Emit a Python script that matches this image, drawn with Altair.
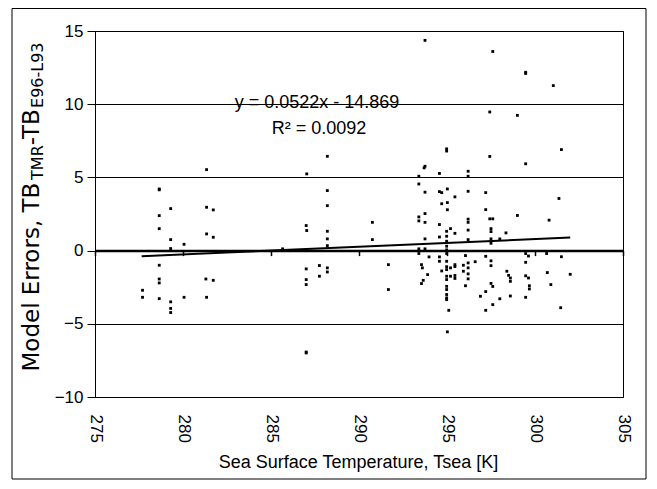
import altair as alt
import pandas as pd

# ---- data ----
tsea = [
    277.7, 277.7,
    278.65, 278.65, 278.65, 278.65, 278.65, 278.65, 278.65, 278.65,
    279.3, 279.3, 279.3, 279.3, 279.3, 279.3,
    280.06, 280.06,
    281.34, 281.34, 281.34, 281.3, 281.34,
    281.72, 281.72, 281.72,
    285.66,
    287.03, 287.0, 287.03, 287.0, 287.0, 287.0, 287.0, 287.0,
    287.75, 287.75,
    288.2, 288.2, 288.2, 288.2, 288.2, 288.2, 288.2, 288.2,
    290.76, 290.76,
    291.67, 291.67,
    293.4, 293.4, 293.4, 293.4, 293.4, 293.4,
    293.55, 293.6, 293.65, 293.55,
    293.75, 293.75, 293.7, 293.75, 293.75, 293.75, 293.75, 293.75,
    293.9, 293.98,
    294.57, 294.57, 294.57, 294.57, 294.57, 294.57,
    294.7, 294.7, 294.7,
    294.98, 294.98, 294.98, 294.98, 294.98, 294.98, 294.98,
    294.98, 294.98, 294.98, 294.98, 294.98, 294.98, 294.98, 294.98, 294.98, 294.98, 294.98,
    295.02, 295.02, 295.02, 295.1, 295.02,
    295.2, 295.2, 295.2,
    295.45, 295.45, 295.45, 295.45, 295.45, 295.45,
    295.93, 295.93, 296.05, 296.05,
    296.2, 296.2, 296.2, 296.2, 296.2, 296.2, 296.2, 296.2, 296.2, 296.2, 296.2,
    296.6,
    296.9,
    297.2, 297.2, 297.2, 297.2, 297.2,
    297.43, 297.43, 297.43, 297.5, 297.5, 297.5, 297.5, 297.5, 297.5, 297.5, 297.6,
    297.6, 297.6, 297.6,
    298.0, 298.0,
    298.35, 298.4, 298.5, 298.6, 298.6, 298.6,
    299.0, 299.0,
    299.47, 299.47, 299.47, 299.47, 299.47, 299.47, 299.47,
    299.63, 299.63, 299.68, 299.68,
    300.66, 300.7,
    300.8, 300.9,
    301.04,
    301.36,
    301.46,
    301.5, 301.5,
    302.0,
]
err = [
    -2.71, -3.19,
    4.21, 4.15, 2.39, 1.5, -1.0, -1.94, -2.21, -3.28,
    2.87, 0.75, 0.14, -3.5, -3.95, -4.23,
    0.43, -3.19,
    5.53, 2.96, 1.14, -1.94, -3.19,
    2.78, 0.91, -2.03,
    0.12,
    5.24, 1.71, 1.37, -1.25, -1.98, -2.32, -6.99, -6.93,
    -1.02, -1.75,
    6.44, 4.1, 3.07, 1.32, 0.8, 0.34, -1.18, -1.46,
    1.93, 0.75,
    -0.96, -2.66,
    5.08, 4.55, 2.3, 2.03, 0.12, -0.2,
    -0.96, -1.18, -2.03, -2.25,
    14.36, 5.76, 5.65, 3.99, 2.53, 1.93, 0.8, 0.12,
    -1.64, -0.43,
    5.27, 4.03, 1.78, 0.93, -0.43, -0.73,
    3.96, 3.2, -1.39,
    6.95, 6.8, 1.32, 0.98, 0.64, 0.3, 0.05,
    -0.2, -0.73, -1.1, -1.3, -1.75, -1.98, -2.44, -2.66, -3.0, -3.23, -3.35,
    4.21, 3.28, 2.79, -4.08, -5.55,
    1.5, -1.18, -1.75,
    3.67, 1.18, -0.96, -1.09, -1.7, -1.9,
    -1.0, -1.41, -0.34, -2.4,
    5.42, 5.08, 4.05, 2.15, 1.93, 1.4, 0.75, -0.84, -1.18, -1.59, -1.93,
    -0.76,
    -3.12,
    3.96, 2.8, -0.39, -2.8, -4.08,
    9.47, 6.43, 2.17, 1.5, 1.3, 0.8, 0.5, -0.7, -1.03, -2.24, -2.45,
    13.6, 2.17, -3.69,
    0.8, -3.29,
    1.21, -1.41, -1.69, -1.87, -2.1, -3.1,
    9.24, 2.4,
    12.18, 12.1, 5.93, -0.2, -0.8, -1.72, -3.19,
    -0.37, -1.87, -2.4, -2.62,
    -0.2, -1.5,
    2.08, -2.32,
    11.27,
    3.56,
    -3.9,
    6.9, -0.42,
    -1.62,
]
trend_x = [277.65, 302.0]
trend_y = [-0.38, 0.89]
x_ticks = [275, 280, 285, 290, 295, 300, 305]
y_ticks = [-10, -5, 0, 5, 10, 15]

eq_text = "y = 0.0522x - 14.869"
r2_text = "R² = 0.0092"
x_title = "Sea Surface Temperature, Tsea [K]"
y_title_parts = ["Model Errors, TB", "TMR", "-TB", "E96-L93"]

pts = pd.DataFrame({"tsea": tsea, "err": err})
trend = pd.DataFrame({"tsea": trend_x, "err": trend_y})
one = pd.DataFrame({"k": [0]})

FONT = "Liberation Sans"
TFONT = "DejaVu Sans"
W, H = 528, 366
xs = alt.Scale(domain=[275, 305], nice=False, zero=False)
ys = alt.Scale(domain=[-10, 15], nice=False, zero=False)

x_axis = alt.Axis(
    orient="bottom", values=x_ticks, labelAngle=90, labelAlign="left", labelBaseline="middle",
    labelFontSize=17, labelFont=FONT, labelColor="black", labelPadding=17, labelFlush=False,
    ticks=False, domain=False, grid=False,
    title=x_title, titleFont=FONT, titleFontSize=18, titleFontWeight="normal", titleColor="black",
    titleY=70, titleX=263, titleBaseline="alphabetic", titleAlign="center",
)
y_axis = alt.Axis(
    orient="left", values=y_ticks, labelFontSize=17, labelFont=FONT, labelColor="black",
    labelPadding=4, labelFlush=False, tickSize=8, tickColor="black", domainColor="black",
    domainWidth=1, grid=True, gridColor="black", gridWidth=1, title=None,
)
zero_axis = alt.Axis(
    orient="bottom", offset=-146.4, values=x_ticks, labels=False, ticks=True, tickSize=5,
    tickColor="black", tickWidth=1.5, domain=True, domainColor="black", domainWidth=2.5,
    grid=False, title=None,
)

points = alt.Chart(pts).mark_square(size=8, color="black", opacity=1).encode(
    x=alt.X("tsea:Q", scale=xs, axis=x_axis),
    y=alt.Y("err:Q", scale=ys, axis=y_axis),
)
zero_layer = alt.Chart(trend).mark_point(opacity=0).encode(
    x=alt.X("tsea:Q", scale=xs, axis=zero_axis),
    y=alt.Y("err:Q", scale=ys, axis=None),
)
trend_line = alt.Chart(trend).mark_line(color="black", strokeWidth=2).encode(
    x=alt.X("tsea:Q", scale=xs, axis=None),
    y=alt.Y("err:Q", scale=ys, axis=None),
)

eq = alt.Chart(one).mark_text(
    text=eq_text, font=FONT, fontSize=18, color="black", align="center", baseline="alphabetic"
).encode(x=alt.value(222), y=alt.value(77))
r2 = alt.Chart(one).mark_text(
    text=r2_text, font=FONT, fontSize=18, color="black", align="center", baseline="alphabetic"
).encode(x=alt.value(224), y=alt.value(103))

# y title, rotated, with subscripts (built from pieces)
big, small = 23, 16
em = {"Model Errors, TB": 8.33, "TMR": 2.169, "-TB": 1.62, "E96-L93": 4.094}
sizes = [big, small, big, small]
lengths = [em[p] * s for p, s in zip(y_title_parts, sizes)]
total = sum(lengths)
start = 176 + total / 2
title_layers = []
pos = start
for part, s, ln in zip(y_title_parts, sizes, lengths):
    dx = 0 if s == big else 4
    title_layers.append(
        alt.Chart(one).mark_text(
            text=part, font=TFONT, fontSize=s, color="black", angle=270,
            align="left", baseline="alphabetic",
        ).encode(x=alt.value(-56 + dx), y=alt.value(pos))
    )
    pos -= ln

frame = alt.Chart(one).mark_rect(
    fillOpacity=0, stroke="black", strokeWidth=1
).encode(x=alt.value(-83), x2=alt.value(551), y=alt.value(-22.5), y2=alt.value(448))

chart = alt.layer(
    frame, zero_layer, points, trend_line, eq, r2, *title_layers
).resolve_axis(x="independent", y="independent").properties(
    width=W, height=H,
    autosize=alt.AutoSizeParams(type="none"),
    padding={"left": 87, "top": 23, "right": 26, "bottom": 84},
    background="white",
).configure_view(stroke="black", strokeWidth=1)

chart.save("out.html", embed_options={"renderer": "svg", "actions": False})
